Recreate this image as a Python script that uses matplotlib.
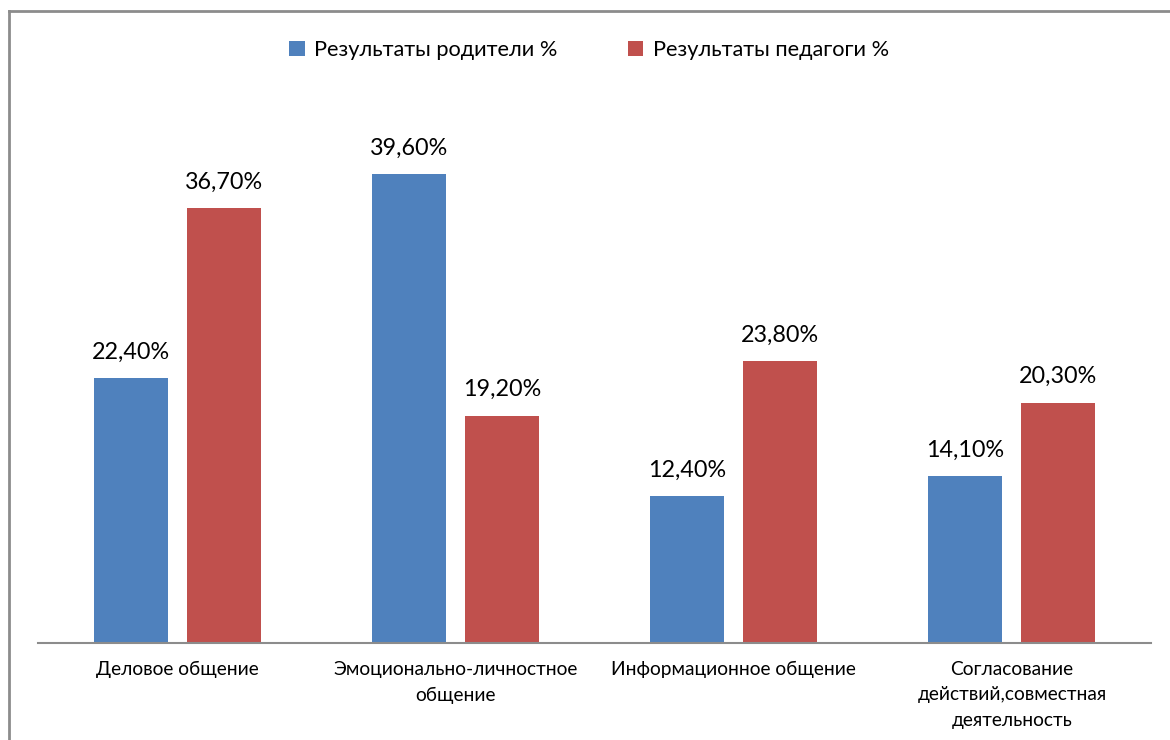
import numpy as np
import matplotlib.pyplot as plt
from matplotlib.lines import Line2D

plt.rcParams['font.family'] = ['Lato', 'DejaVu Sans']

categories = ['Деловое общение', 'Эмоционально-личностное\nобщение',
              'Информационное общение', 'Согласование\nдействий,совместная\nдеятельность']
series_names = ['Результаты родители %', 'Результаты педагоги %']
parents = [22.4, 39.6, 12.4, 14.1]
teachers = [36.7, 19.2, 23.8, 20.3]
colors = ['#4F81BD', '#C0504D']

W, H = 1170, 740
fig = plt.figure(figsize=(W / 100, H / 100), dpi=100)
ax = fig.add_axes([38 / W, 1 - 643 / H, (1151 - 38) / W, (643 - 110) / H])

x = np.arange(len(categories))
bw = 0.266
off = 0.167
for vals, dx, c, name in zip([parents, teachers], [-off, off], colors, series_names):
    bars = ax.bar(x + dx, vals, width=bw, color=c, label=name)
    for b, v in zip(bars, vals):
        ax.annotate(f'{v:.2f}%'.replace('.', ','), (b.get_x() + b.get_width() / 2, v),
                    xytext=(0, 11), textcoords='offset points', ha='center', va='bottom',
                    fontsize=16.8)

ax.set_xlim(-0.5, len(categories) - 0.5)
ax.set_ylim(0, 45)
ax.set_yticks([])
for s in ['top', 'right', 'left']:
    ax.spines[s].set_visible(False)
ax.spines['bottom'].set_color('#8C8C8C')
ax.spines['bottom'].set_linewidth(1.5)
ax.set_xticks(x)
ax.set_xticklabels(categories, fontsize=13.8, linespacing=1.6, va='top')
ax.tick_params(axis='x', length=0, pad=13)

ax.legend(loc='center', bbox_to_anchor=(589 / W, 1 - 50 / H), bbox_transform=fig.transFigure,
          ncol=2, frameon=False, fontsize=15.7, handlelength=0.7, handleheight=0.7,
          handletextpad=0.45, columnspacing=3.2)

# chart border (left and top edges visible)
fig.add_artist(Line2D([8.5 / W, 8.5 / W], [0, 1 - 10.5 / H], transform=fig.transFigure,
                      color='#8C8C8C', lw=2))
fig.add_artist(Line2D([8.5 / W, 1], [1 - 10.5 / H, 1 - 10.5 / H], transform=fig.transFigure,
                      color='#8C8C8C', lw=2))

fig.savefig('out.png', dpi=100)
